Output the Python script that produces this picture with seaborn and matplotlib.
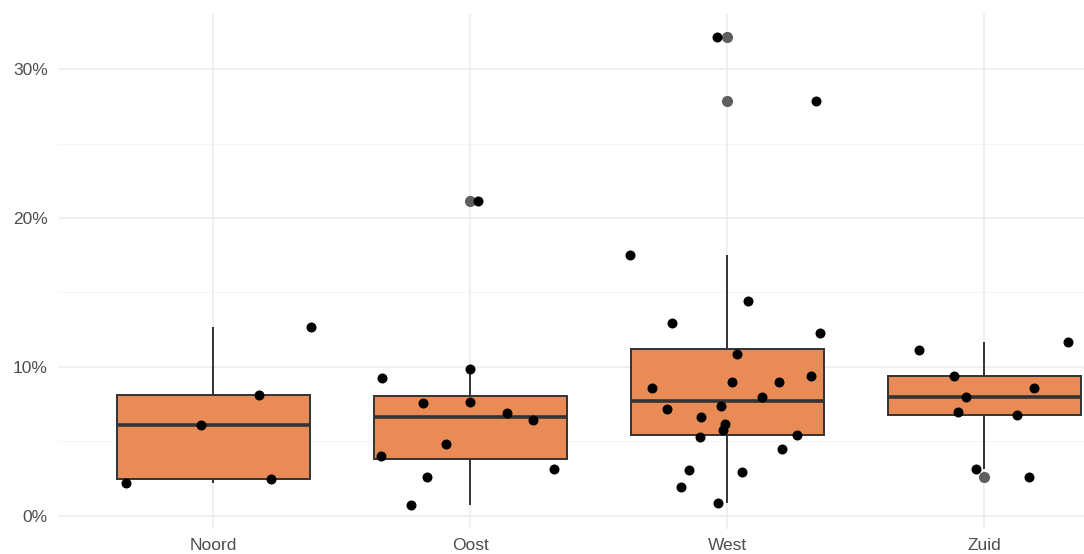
import numpy as np
import pandas as pd
import matplotlib
matplotlib.use("Agg")
import matplotlib.pyplot as plt
import seaborn as sns

# percentages per regio
noord = [2.16, 2.45, 6.10, 8.10, 12.66]
oost = [21.17, 9.88, 9.22, 7.58, 7.65, 6.87, 6.44, 4.84, 4.01, 2.59, 3.13, 0.69]
west = [32.17, 27.85, 17.53, 14.45, 12.26, 12.95, 10.86, 9.38, 8.57, 8.96, 8.96, 8.00,
        7.34, 7.17, 6.17, 6.62, 5.77, 5.30, 5.44, 4.49, 3.09, 2.90, 1.90, 0.81]
zuid = [9.41, 6.79, 6.93, 3.11, 2.56, 8.00, 11.67, 11.14, 8.57]

regios = ["Noord", "Oost", "West", "Zuid"]
y_ticks = [0, 10, 20, 30]
y_minor = [5, 15, 25]

df = pd.DataFrame({
    "regio": ["Noord"] * len(noord) + ["Oost"] * len(oost) + ["West"] * len(west) + ["Zuid"] * len(zuid),
    "pct": noord + oost + west + zuid,
})

sns.set_style("white")
plt.rcParams["font.family"] = ["Liberation Sans", "DejaVu Sans"]

fig = plt.figure(figsize=(10.84, 5.54), dpi=100)
ax = fig.add_axes([59 / 1084, (554 - 528.6) / 554, (1084 - 59) / 1084, (528.6 - 13.6) / 554])

grid = "#EBEBEB"
for y in y_ticks:
    ax.axhline(y, color=grid, lw=1.1, zorder=0)
for y in y_minor:
    ax.axhline(y, color="#F4F4F4", lw=0.6, zorder=0)
for i in range(len(regios)):
    ax.axvline(i, color=grid, lw=1.1, zorder=0)

sns.boxplot(data=df, x="regio", y="pct", order=regios, color="#E98B56", saturation=1,
            width=0.75, linecolor="#333333", linewidth=1.4, whis=1.5, showcaps=False,
            medianprops={"linewidth": 2.6, "color": "#333333"},
            flierprops={"marker": "o", "markerfacecolor": "#5e5e5e",
                        "markeredgecolor": "#5e5e5e", "markersize": 7},
            ax=ax, zorder=2)

np.random.seed(7)
sns.stripplot(data=df, x="regio", y="pct", order=regios, color="black", size=7.2,
              jitter=0.4, linewidth=0, ax=ax, zorder=3)

ax.set_xlim(-0.6, 3.388)
ax.set_ylim(-0.88, 33.75)
ax.set_yticks(y_ticks)
ax.set_yticklabels([f"{t}%" for t in y_ticks])
ax.set_xlabel("")
ax.set_ylabel("")
for s in ax.spines.values():
    s.set_visible(False)
ax.tick_params(axis="y", length=0, pad=8, labelsize=12.5, labelcolor="#4D4D4D")
ax.tick_params(axis="x", length=0, pad=7, labelsize=12.5, labelcolor="#4D4D4D")

fig.savefig("out.png", dpi=100)
